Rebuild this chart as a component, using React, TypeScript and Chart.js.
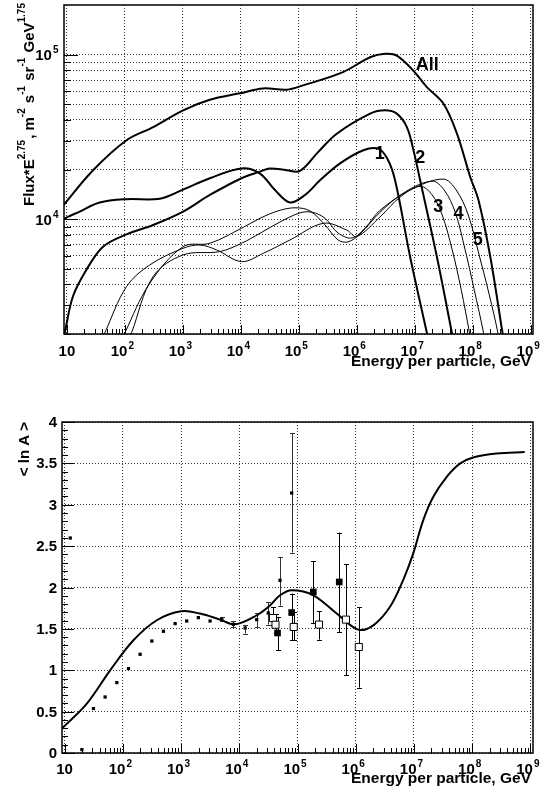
import React, { useEffect, useRef } from 'react';
import { Chart, registerables } from 'chart.js';
Chart.register(...registerables);

// ---------- Top panel: Flux*E^2.75 vs energy per particle (GeV) ----------
const allE = [7.5, 9.16, 28.3, 107, 307, 1010, 2920, 9640, 24100, 61800, 118000, 579000, 1.7e6, 3.08e6, 4.91e6, 9.38e6, 1.62e7, 3.1e7, 5.33e7, 9.06e7, 1.26e8, 2.01e8, 3.27e8, 3.65e8];
const allFlux = [11300, 12400, 19800, 30100, 36200, 45800, 53100, 58100, 62200, 61100, 64900, 78200, 96300, 101000, 98600, 80000, 63400, 50500, 33200, 18000, 13000, 5900, 2030, 1610];

const c1E = [7.5, 8.91, 16.6, 36.8, 107, 401, 1010, 2920, 10300, 21400, 38800, 70500, 128000, 232000, 515000, 1.3e6, 2.33e6, 3.34e6, 4.58e6, 8.32e6, 1.62e7, 1.85e7];
const c1Flux = [9330, 10000, 11100, 12600, 13200, 13300, 15100, 17700, 20300, 18900, 15000, 12600, 14000, 17200, 21800, 26200, 26800, 23400, 17200, 5900, 2030, 1610];

const c2E = [8.13, 9.16, 12.7, 21.7, 42.0, 107, 307, 1010, 2920, 10300, 21400, 31800, 61800, 105000, 215000, 452000, 1.7e6, 3.08e6, 4.91e6, 7.31e6, 9.51e6, 1.24e7, 2.41e7, 4.38e7, 4.99e7];
const c2Flux = [1720, 2030, 3380, 4910, 6790, 8070, 9200, 11100, 14000, 17700, 19400, 20300, 19800, 19600, 25500, 33000, 43700, 45800, 43700, 36200, 26200, 17200, 5900, 2030, 1610];

const c3E = [36.8, 45.0, 107, 269, 1010, 1970, 3820, 10300, 24400, 70500, 265000, 671000, 1.0e6, 2.52e6, 5.6e6, 1.24e7, 2.0e7, 2.97e7, 4.43e7, 6.33e7, 8.81e7, 9.8e7];
const c3Flux = [1720, 2030, 3890, 5260, 6640, 6950, 6490, 5510, 6190, 7460, 9420, 8570, 7820, 10300, 13600, 15800, 14000, 10600, 6490, 3720, 2030, 1610];

const c4E = [81.6, 99.6, 269, 1010, 2920, 10300, 21400, 47300, 89500, 156000, 284000, 476000, 708000, 1.14e6, 2.52e6, 6.82e6, 2.0e7, 3.22e7, 4.99e7, 7.41e7, 1.06e8, 1.54e8, 1.71e8];
const c4Flux = [1720, 2030, 4070, 6790, 7120, 8790, 10100, 11300, 11700, 11200, 9200, 7460, 7260, 8110, 11000, 14600, 17000, 15000, 11000, 6490, 3720, 2030, 1610];

const c5E = [108, 130, 307, 1010, 4350, 10300, 21400, 47300, 105000, 169000, 284000, 476000, 830000, 1.39e6, 2.52e6, 8.32e6, 3.09e7, 5.19e7, 8.36e7, 1.29e8, 1.93e8, 2.72e8, 2.99e8];
const c5Flux = [1720, 2030, 4470, 6050, 6340, 7120, 8190, 9590, 10900, 11000, 10100, 8220, 7670, 8810, 11300, 15000, 17500, 15000, 10600, 6050, 3460, 2030, 1610];

const curveLabels = ['All', '1', '2', '3', '4', '5'];
const curveLabelE = [1.64e7, 2.49e6, 1.24e7, 2.54e7, 5.69e7, 1.22e8];
const curveLabelFlux = [8.0e4, 23300, 21900, 11000, 9950, 6950];

const topYGrid = [2000, 3000, 4000, 5000, 6000, 7000, 8000, 9000, 10000, 20000, 30000, 40000, 50000, 60000, 70000, 80000, 90000, 100000];
const topYLabels = [1e4, 1e5];
const topYMin = 2000;
const topYMax = 200000;
const topXMin = 8.913;
const topXMax = 1.0965e9;

// ---------- Bottom panel: <ln A> vs energy per particle ----------
const lnACurveE = [7.94, 9.55, 24.1, 60.5, 152, 383, 1000, 2120, 4680, 8450, 19900, 34000, 50100, 79400, 187000, 471000, 1.1e6, 2.0e6, 3.86e6, 6.5e6, 9.7e6, 1.44e7, 2.14e7, 3.63e7, 6.15e7, 1.04e8, 2.62e8, 8.0e8];
const lnACurveV = [0.258, 0.314, 0.597, 0.999, 1.362, 1.604, 1.712, 1.685, 1.612, 1.555, 1.664, 1.785, 1.906, 1.966, 1.906, 1.685, 1.491, 1.543, 1.764, 2.087, 2.41, 2.812, 3.094, 3.335, 3.497, 3.57, 3.618, 3.637];

const dotE = [12.5, 19.8, 31.3, 49.6, 78.9, 125, 198, 315, 498, 791, 1250, 1980, 3150];
const dotV = [2.598, 0.041, 0.537, 0.677, 0.851, 1.02, 1.193, 1.353, 1.471, 1.564, 1.595, 1.636, 1.595];

const dotErrE = [5000, 7910, 12600, 19900, 31500, 50100, 79400];
const dotErrV = [1.616, 1.555, 1.511, 1.612, 1.692, 2.087, 3.142];
const dotErrLo = [1.59, 1.52, 1.443, 1.523, 1.552, 1.78, 2.422];
const dotErrHi = [1.645, 1.59, 1.543, 1.692, 1.825, 2.37, 3.866];

const fillE = [45400, 79400, 187000, 521000];
const fillV = [1.45, 1.697, 1.946, 2.067];
const fillLo = [1.241, 1.362, 1.571, 1.462];
const fillHi = [1.644, 1.926, 2.317, 2.663];

const openE = [37900, 41900, 86100, 234000, 679000, 1.13e6];
const openV = [1.631, 1.55, 1.523, 1.552, 1.612, 1.281];
const openLo = [1.543, 1.45, 1.362, 1.37, 0.94, 0.79];
const openHi = [1.764, 1.68, 1.704, 1.716, 2.28, 1.764];

const botYGrid = [0, 0.5, 1, 1.5, 2, 2.5, 3, 3.5, 4];
const botYLabels = ['0', '0.5', '1', '1.5', '2', '2.5', '3', '3.5', '4'];
const botXMin = 9.016;
const botXMax = 1.109e9;

const xDecades = [10, 100, 1e3, 1e4, 1e5, 1e6, 1e7, 1e8, 1e9];
const xDecadeExp = ['', '2', '3', '4', '5', '6', '7', '8', '9'];

// ---------- helpers ----------
const FONT = '"Liberation Sans", Arial, Helvetica, sans-serif';
const GRID = 'rgba(0,0,0,0.8)';

const pts = (xs: number[], ys: number[]) => xs.map((x, i) => ({ x, y: ys[i] }));
const setTicks = (vals: number[]) => (scale: any) => {
  scale.ticks = vals.map((v) => ({ value: v }));
};

function logMinorTicks(min: number, max: number) {
  const out: { v: number; major: boolean }[] = [];
  for (let k = 0; k <= 9; k++) {
    for (let n = 1; n <= 9; n++) {
      const v = n * Math.pow(10, k);
      if (v >= min && v <= max) out.push({ v, major: n === 1 });
    }
  }
  return out;
}

function line(ctx: CanvasRenderingContext2D, x1: number, y1: number, x2: number, y2: number) {
  ctx.beginPath();
  ctx.moveTo(x1, y1);
  ctx.lineTo(x2, y2);
  ctx.stroke();
}

function powLabel(ctx: CanvasRenderingContext2D, x: number, baseline: number, exp: string, align: 'center' | 'right') {
  const main = `bold 15px ${FONT}`;
  const sup = `bold 10px ${FONT}`;
  ctx.font = main;
  const w1 = ctx.measureText('10').width;
  let w2 = 0;
  if (exp) {
    ctx.font = sup;
    w2 = ctx.measureText(exp).width + 1;
  }
  const total = w1 + w2;
  let x0 = align === 'center' ? x - total / 2 : x - total;
  if (align === 'center' && exp) x0 -= 2.5;
  ctx.textAlign = 'left';
  ctx.textBaseline = 'alphabetic';
  ctx.font = main;
  ctx.fillText('10', x0, baseline);
  if (exp) {
    ctx.font = sup;
    ctx.fillText(exp, x0 + w1 + 1, baseline - 7);
  }
}

function drawXAxisDecor(ctx: CanvasRenderingContext2D, chart: any, labelBaseline: number, titleBaseline: number) {
  const a = chart.chartArea;
  const xs = chart.scales.x;
  ctx.strokeStyle = '#000';
  ctx.lineWidth = 1;
  ctx.setLineDash([]);
  for (const t of logMinorTicks(xs.min, xs.max)) {
    const px = Math.round(xs.getPixelForValue(t.v)) + 0.5;
    line(ctx, px, a.bottom, px, a.bottom - (t.major ? 9 : 5));
  }
  ctx.fillStyle = '#000';
  xDecades.forEach((v, i) => {
    powLabel(ctx, xs.getPixelForValue(v), labelBaseline, xDecadeExp[i], 'center');
  });
  ctx.font = `bold 15.5px ${FONT}`;
  ctx.textAlign = 'right';
  ctx.textBaseline = 'alphabetic';
  ctx.fillText('Energy per particle, GeV', 531, titleBaseline);
}

function drawFrame(ctx: CanvasRenderingContext2D, a: any) {
  ctx.strokeStyle = '#000';
  ctx.lineWidth = 1.5;
  ctx.setLineDash([]);
  ctx.strokeRect(a.left, a.top, a.right - a.left, a.bottom - a.top);
}

const topDecor = {
  id: 'topDecor',
  afterDraw(chart: any) {
    const { ctx, chartArea: a } = chart;
    const ys = chart.scales.y;
    const xs = chart.scales.x;
    ctx.save();
    drawXAxisDecor(ctx, chart, 356, 366);
    ctx.lineWidth = 1;
    for (const v of topYGrid) {
      const py = Math.round(ys.getPixelForValue(v)) + 0.5;
      const major = topYLabels.includes(v);
      line(ctx, a.left, py, a.left + (major ? 14 : 7), py);
    }
    drawFrame(ctx, a);
    ctx.fillStyle = '#000';
    topYLabels.forEach((v) => {
      const py = ys.getPixelForValue(v);
      powLabel(ctx, 58.5, py + 5.5, String(Math.round(Math.log10(v))), 'right');
    });
    // curve labels
    ctx.font = `bold 18px ${FONT}`;
    ctx.textAlign = 'center';
    ctx.textBaseline = 'alphabetic';
    curveLabels.forEach((t, i) => {
      ctx.fillText(t, xs.getPixelForValue(curveLabelE[i]), ys.getPixelForValue(curveLabelFlux[i]));
    });
    // y title with superscripts (rotated)
    const parts: [string, boolean][] = [
      ['Flux*E', false], ['2.75', true], [', m', false], ['-2', true], [' s', false], ['-1', true],
      [' sr', false], ['-1', true], [' GeV', false], ['1.75', true],
    ];
    ctx.translate(33.5, 206);
    ctx.rotate(-Math.PI / 2);
    ctx.textAlign = 'left';
    let x = 0;
    for (const [txt, sup] of parts) {
      ctx.font = sup ? `bold 10px ${FONT}` : `bold 15px ${FONT}`;
      ctx.fillText(txt, x, sup ? -9 : 0);
      x += ctx.measureText(txt).width + (sup ? 1 : 0);
    }
    ctx.restore();
  },
};

function drawErrBars(ctx: CanvasRenderingContext2D, xs: any, ys: any, E: number[], lo: number[], hi: number[], color: string) {
  ctx.strokeStyle = color;
  ctx.lineWidth = 1;
  E.forEach((e, i) => {
    const px = Math.round(xs.getPixelForValue(e)) + 0.5;
    const y1 = ys.getPixelForValue(lo[i]);
    const y2 = ys.getPixelForValue(hi[i]);
    line(ctx, px, y1, px, y2);
    line(ctx, px - 2.5, Math.round(y1) + 0.5, px + 2.5, Math.round(y1) + 0.5);
    line(ctx, px - 2.5, Math.round(y2) + 0.5, px + 2.5, Math.round(y2) + 0.5);
  });
}

const BOT_TOP = 385;

const botDecor = {
  id: 'botDecor',
  beforeDatasetsDraw(chart: any) {
    const { ctx } = chart;
    const xs = chart.scales.x;
    const ys = chart.scales.y;
    ctx.save();
    ctx.setLineDash([]);
    drawErrBars(ctx, xs, ys, dotErrE, dotErrLo, dotErrHi, '#333');
    drawErrBars(ctx, xs, ys, fillE, fillLo, fillHi, '#000');
    drawErrBars(ctx, xs, ys, openE, openLo, openHi, '#000');
    ctx.restore();
  },
  afterDraw(chart: any) {
    const { ctx, chartArea: a } = chart;
    const ys = chart.scales.y;
    ctx.save();
    drawXAxisDecor(ctx, chart, 774 - BOT_TOP, 783 - BOT_TOP);
    ctx.lineWidth = 1;
    for (let i = 0; i <= 40; i++) {
      const v = i / 10;
      const py = Math.round(ys.getPixelForValue(v)) + 0.5;
      line(ctx, a.left, py, a.left + (i % 5 === 0 ? 12 : 6), py);
    }
    drawFrame(ctx, a);
    ctx.fillStyle = '#000';
    ctx.font = `bold 15px ${FONT}`;
    ctx.textAlign = 'right';
    ctx.textBaseline = 'alphabetic';
    botYGrid.forEach((v, i) => {
      ctx.fillText(botYLabels[i], 57, ys.getPixelForValue(v) + 5);
    });
    ctx.translate(28.5, 422 - BOT_TOP);
    ctx.rotate(-Math.PI / 2);
    ctx.textAlign = 'right';
    ctx.fillText('< ln A >', 0, 0);
    ctx.restore();
  },
};

const curveDs = (E: number[], F: number[], w: number) => ({
  data: pts(E, F),
  borderColor: '#000',
  borderWidth: w,
  pointRadius: 0,
  fill: false,
  tension: 0.35,
});

const baseScale = {
  ticks: { display: false },
  grid: { color: GRID, lineWidth: 1, drawTicks: false },
  border: { display: false, dash: [1, 2] },
};

function topConfig(): any {
  return {
    type: 'line',
    data: {
      datasets: [
        curveDs(allE, allFlux, 2),
        curveDs(c1E, c1Flux, 2),
        curveDs(c2E, c2Flux, 2),
        curveDs(c3E, c3Flux, 1),
        curveDs(c4E, c4Flux, 1),
        curveDs(c5E, c5Flux, 1),
      ],
    },
    options: {
      animation: false,
      responsive: false,
      layout: { padding: { left: 64, right: 22, top: 5, bottom: 51 } },
      plugins: { legend: { display: false }, tooltip: { enabled: false } },
      scales: {
        x: {
          ...baseScale,
          type: 'logarithmic',
          min: topXMin,
          max: topXMax,
          afterBuildTicks: setTicks(xDecades),
          afterFit: (s: any) => { s.height = 0; },
        },
        y: {
          ...baseScale,
          type: 'logarithmic',
          min: topYMin,
          max: topYMax,
          afterBuildTicks: setTicks(topYGrid),
          afterFit: (s: any) => { s.width = 0; },
        },
      },
    },
    plugins: [topDecor],
  };
}

function botConfig(): any {
  return {
    type: 'line',
    data: {
      datasets: [
        { data: pts(openE, openV), showLine: false, pointStyle: 'rect', pointRadius: 5, backgroundColor: '#fff', borderColor: '#000', borderWidth: 1 },
        { data: pts(fillE, fillV), showLine: false, pointStyle: 'rect', pointRadius: 4.7, backgroundColor: '#000', borderColor: '#000', borderWidth: 0 },
        { data: pts(dotErrE, dotErrV), showLine: false, pointStyle: 'rect', pointRadius: 2.3, backgroundColor: '#000', borderWidth: 0 },
        { data: pts(dotE, dotV), showLine: false, pointStyle: 'rect', pointRadius: 2.3, backgroundColor: '#000', borderWidth: 0 },
        curveDs(lnACurveE, lnACurveV, 2),
      ],
    },
    options: {
      animation: false,
      responsive: false,
      layout: { padding: { left: 62, right: 22, top: 37, bottom: 34 } },
      plugins: { legend: { display: false }, tooltip: { enabled: false } },
      scales: {
        x: {
          ...baseScale,
          type: 'logarithmic',
          min: botXMin,
          max: botXMax,
          afterBuildTicks: setTicks(xDecades),
          afterFit: (s: any) => { s.height = 0; },
        },
        y: {
          ...baseScale,
          type: 'linear',
          min: 0,
          max: 4,
          afterBuildTicks: setTicks(botYGrid),
          afterFit: (s: any) => { s.width = 0; },
        },
      },
    },
    plugins: [botDecor],
  };
}

export default function App() {
  const topRef = useRef<HTMLCanvasElement>(null);
  const botRef = useRef<HTMLCanvasElement>(null);
  useEffect(() => {
    const c1 = new Chart(topRef.current as HTMLCanvasElement, topConfig());
    const c2 = new Chart(botRef.current as HTMLCanvasElement, botConfig());
    return () => {
      c1.destroy();
      c2.destroy();
    };
  }, []);
  return (
    <div style={{ position: 'absolute', left: 0, top: 0, width: 555, height: 787, background: '#fff' }}>
      <canvas ref={topRef} width={555} height={385} style={{ position: 'absolute', left: 0, top: 0, width: 555, height: 385 }} />
      <canvas ref={botRef} width={555} height={402} style={{ position: 'absolute', left: 0, top: BOT_TOP, width: 555, height: 402 }} />
    </div>
  );
}
